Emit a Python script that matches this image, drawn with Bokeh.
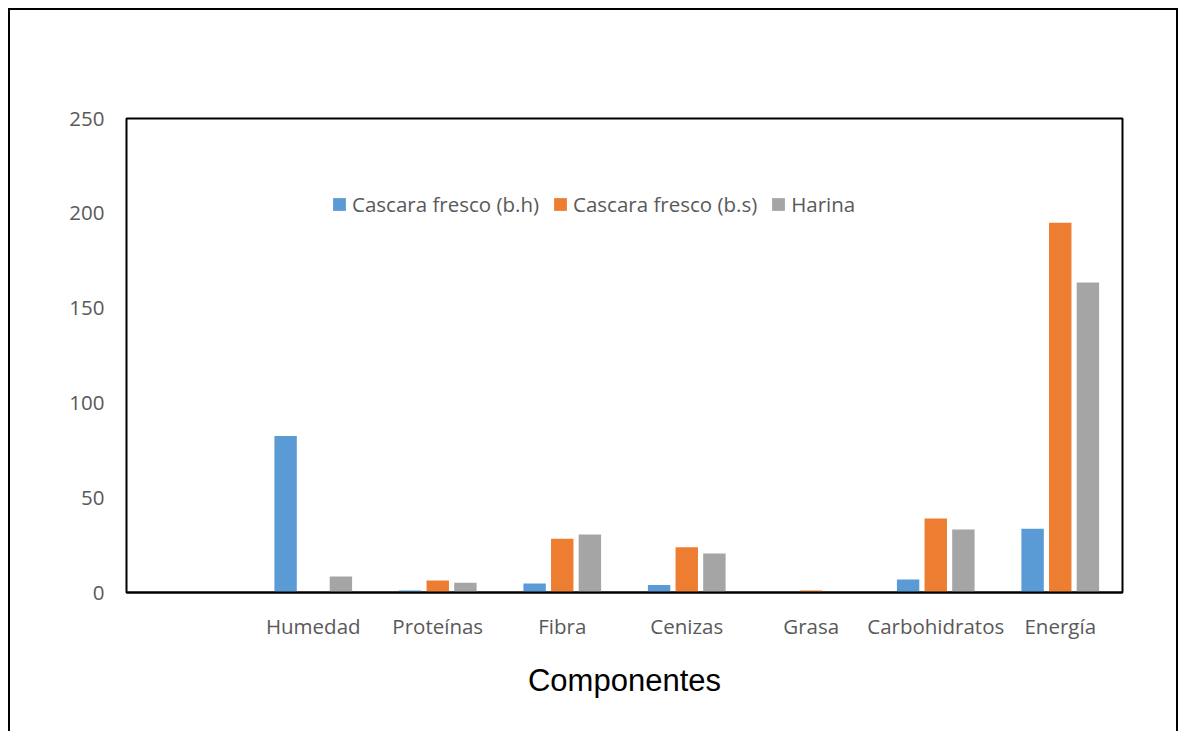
from bokeh.plotting import figure
from bokeh.models import ColumnDataSource, FactorRange, Range1d, Legend, InlineStyleSheet
from bokeh.transform import dodge
from bokeh.embed import file_html
from bokeh.resources import INLINE

# Composición de la cáscara y la harina
blank = [""]
componentes = ["Humedad", "Proteínas", "Fibra", "Cenizas", "Grasa", "Carbohidratos", "Energía"]
fresco_bh = [82.5, 1.0, 4.7, 4.0, 0.0, 6.9, 33.6]
fresco_bs = [0.0, 6.3, 28.3, 23.9, 1.0, 39.0, 195.0]
harina = [8.4, 5.1, 30.6, 20.6, 0.0, 33.2, 163.5]
y_ticks = [0, 50, 100, 150, 200, 250]

series = [
    ("fresco_bh", "Cascara fresco (b.h)", "#5B9BD5", -0.222),
    ("fresco_bs", "Cascara fresco (b.s)", "#ED7D31", 0.0),
    ("harina", "Harina", "#A5A5A5", 0.222),
]

source = ColumnDataSource(dict(cat=componentes, fresco_bh=fresco_bh,
                               fresco_bs=fresco_bs, harina=harina))

FONT = "Open Sans"
GREY_TXT = "#595959"

p = figure(width=1180, height=731, output_backend="svg", toolbar_location=None,
           x_range=FactorRange(*(blank + componentes), range_padding=0),
           y_range=Range1d(0, 250),
           min_border_left=126, min_border_right=58,
           min_border_top=118, min_border_bottom=139)
p.background_fill_color = "white"
p.border_fill_color = "white"
p.outline_line_color = "black"
p.outline_line_width = 2
p.xgrid.visible = False
p.ygrid.visible = False

renderers = []
for key, label, color, off in series:
    r = p.vbar(x=dodge("cat", off, range=p.x_range), top=key, width=0.18,
               source=source, fill_color=color, line_color=None)
    renderers.append((label, [r]))

legend = Legend(items=renderers, orientation="horizontal", location=(205, 374),
                glyph_width=16, glyph_height=16, label_standoff=5, spacing=13,
                padding=0, margin=0, border_line_color=None,
                background_fill_alpha=0,
                label_text_font=FONT, label_text_font_size="20.5px",
                label_text_color=GREY_TXT)
p.add_layout(legend, "center")

# y axis
p.yaxis.ticker = y_ticks
p.yaxis.axis_line_color = None
p.yaxis.major_tick_line_color = None
p.yaxis.major_tick_out = 0
p.yaxis.minor_tick_line_color = None
p.yaxis.minor_tick_out = 0
p.yaxis.major_label_standoff = 22
p.yaxis.major_label_text_font = FONT
p.yaxis.major_label_text_font_size = "20.5px"
p.yaxis.major_label_text_color = GREY_TXT

# x axis
p.xaxis.axis_line_color = "black"
p.xaxis.axis_line_width = 2
p.xaxis.major_tick_line_color = None
p.xaxis.major_tick_out = 0
p.xaxis.minor_tick_line_color = None
p.xaxis.minor_tick_out = 0
p.xaxis.major_label_standoff = 19
p.xaxis.major_label_text_font = FONT
p.xaxis.major_label_text_font_size = "20.5px"
p.xaxis.major_label_text_color = GREY_TXT
p.xaxis.axis_label = "Componentes"
p.xaxis.axis_label_text_font = "Liberation Sans"
p.xaxis.axis_label_text_font_size = "31px"
p.xaxis.axis_label_text_font_style = "normal"
p.xaxis.axis_label_text_color = "black"
p.xaxis.axis_label_standoff = 20

# outer chart border (open at the bottom edge of the page)
p.stylesheets = [InlineStyleSheet(css="""
:host { position: relative; }
:host::after {
  content: "";
  position: absolute;
  left: 8px; top: 8px; width: 1170px; height: 723px;
  box-sizing: border-box;
  border: 2px solid black; border-bottom: none;
  pointer-events: none;
}
""")]

with open("out.html", "w") as f:
    f.write(file_html(p, INLINE))
